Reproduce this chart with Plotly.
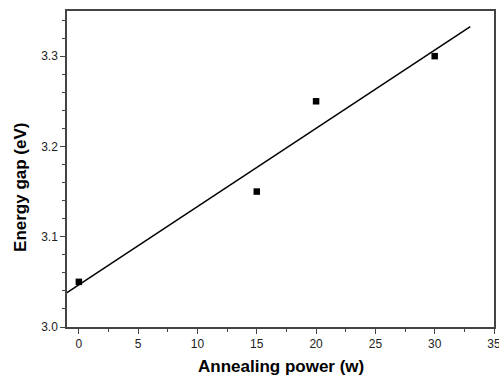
import numpy as np
import plotly.graph_objects as go

power = [0, 15, 20, 30]
energy_gap = [3.05, 3.15, 3.25, 3.30]
fit_range = [-1, 33]

slope, intercept = np.polyfit(power, energy_gap, 1)
fit_x = np.array(fit_range, dtype=float)
fit_y = slope * fit_x + intercept

fig = go.Figure()
fig.add_trace(go.Scatter(x=fit_x, y=fit_y, mode="lines",
                         line=dict(color="black", width=1.5), showlegend=False))
fig.add_trace(go.Scatter(x=power, y=energy_gap, mode="markers",
                         marker=dict(symbol="square", size=6.5, color="black"),
                         showlegend=False))

axis_common = dict(showline=True, linecolor="#444", linewidth=1.5, mirror=True,
                   showgrid=False, zeroline=False, ticks="outside", ticklen=5,
                   tickwidth=1.2, tickcolor="#444", ticklabeloverflow="allow",
                   tickfont=dict(family="Liberation Sans, Arial", size=12, color="#222"))

fig.update_xaxes(range=[-1, 35], dtick=5, tick0=0,
                 minor=dict(dtick=2.5, ticks="outside", ticklen=3, tickcolor="#444", tickwidth=1.2),
                 **axis_common)
fig.update_yaxes(range=[3.0, 3.35], dtick=0.1, tick0=3.0, tickformat=".1f",
                 minor=dict(dtick=0.02, ticks="outside", ticklen=3, tickcolor="#444", tickwidth=1.2),
                 **axis_common)

title_font = dict(family="Liberation Sans, Arial", size=17, color="black")
fig.add_annotation(text="<b>Annealing power (w)</b>", xref="paper", yref="paper",
                   x=0.5, y=0, xanchor="center", yanchor="middle", yshift=-39,
                   showarrow=False, font=title_font)
fig.add_annotation(text="<b>Energy gap (eV)</b>", xref="paper", yref="paper",
                   x=0, y=0.44, xanchor="center", yanchor="middle", xshift=-46,
                   textangle=-90, showarrow=False, font=title_font)

fig.update_layout(width=499, height=378, margin=dict(l=67, r=5, t=11, b=51, autoexpand=False),
                  paper_bgcolor="white", plot_bgcolor="white")
fig.write_html("out.html", config={"displayModeBar": False},
               post_script="document.body.style.margin='0';document.body.style.overflow='hidden';")
